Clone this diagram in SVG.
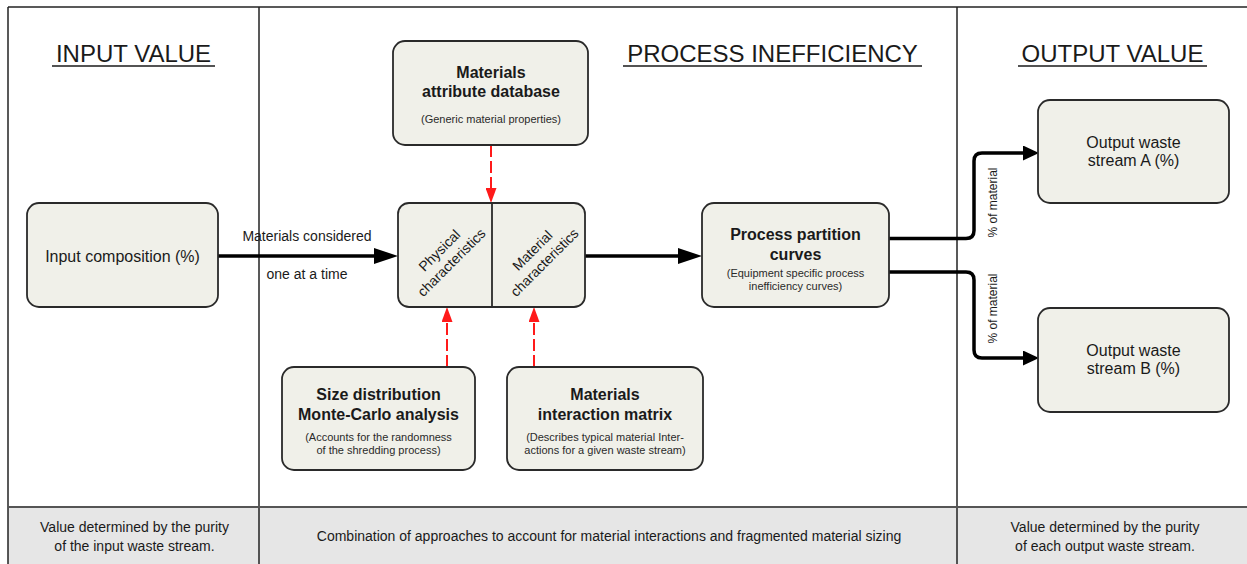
<svg xmlns="http://www.w3.org/2000/svg" width="1247" height="564" viewBox="0 0 1247 564">
<style>
text{font-family:"Liberation Sans",Arial,sans-serif;fill:#1a1a1a}
.h{font-size:24px}
.b{font-size:16px;font-weight:bold;text-anchor:middle}
.r{font-size:16px;text-anchor:middle}
.s{font-size:11px;text-anchor:middle;fill:#2a2a2a}
.m{font-size:14px;text-anchor:middle}
.p{font-size:12px;text-anchor:middle}
.box{fill:#f0f0e9;stroke:#2a2a2a;stroke-width:1.8}
.frame{stroke:#222;stroke-width:1.5;fill:none}
.flow{stroke:#000;stroke-width:3.5;fill:none}
.dash{stroke:#ff1a1a;stroke-width:2;stroke-dasharray:12 4;fill:none}
</style>
<defs>
<marker id="ahBig" markerUnits="userSpaceOnUse" markerWidth="24" markerHeight="16" refX="12" refY="8" orient="auto"><path d="M0,0 L24,8 L0,16 z" fill="#000"/></marker>
<marker id="ahSm" markerUnits="userSpaceOnUse" markerWidth="16" markerHeight="15" refX="7" refY="7.5" orient="auto"><path d="M0,0 L16,7.5 L0,15 z" fill="#000"/></marker>
<marker id="ahRed" markerUnits="userSpaceOnUse" markerWidth="15" markerHeight="11" refX="7" refY="5.5" orient="auto"><path d="M0,0 L15,5.5 L0,11 z" fill="#ff1a1a"/></marker>
</defs>
<rect width="1247" height="564" fill="#fff"/>
<g id="frame">
<rect x="8" y="507" width="1240" height="58" fill="#e6e6e6"/>
<line class="frame" x1="8" y1="7" x2="1247" y2="7"/>
<line class="frame" x1="8" y1="7" x2="8" y2="564"/>
<line class="frame" x1="259" y1="7" x2="259" y2="564"/>
<line class="frame" x1="957" y1="7" x2="957" y2="564"/>
<line x1="8" y1="507" x2="1247" y2="507" stroke="#555" stroke-width="2"/>
</g>
<g id="headings">
<text class="h" x="133.5" y="62" text-anchor="middle">INPUT VALUE</text>
<line x1="52" y1="66" x2="215" y2="66" stroke="#1a1a1a" stroke-width="1.5"/>
<text class="h" x="772.5" y="62" text-anchor="middle">PROCESS INEFFICIENCY</text>
<line x1="623" y1="66" x2="922" y2="66" stroke="#1a1a1a" stroke-width="1.5"/>
<text class="h" x="1112.5" y="62" text-anchor="middle">OUTPUT VALUE</text>
<line x1="1018" y1="66" x2="1207" y2="66" stroke="#1a1a1a" stroke-width="1.5"/>
</g>
<g id="connectors">
<path class="flow" d="M218,256 H386" marker-end="url(#ahBig)"/>
<path class="flow" d="M585,256 H690" marker-end="url(#ahBig)"/>
<path class="flow" d="M889,238.5 H966 Q974,238.5 974,230.5 V161 Q974,153 982,153 H1030" marker-end="url(#ahSm)"/>
<path class="flow" d="M889,272 H966 Q974,272 974,280 V350 Q974,358 982,358 H1030" marker-end="url(#ahSm)"/>
<path class="dash" d="M491,145 V195" marker-end="url(#ahRed)"/>
<path class="dash" d="M447,367 V315" marker-end="url(#ahRed)"/>
<path class="dash" d="M534,367 V315" marker-end="url(#ahRed)"/>
<text class="m" x="307" y="241">Materials considered</text>
<text class="m" x="307" y="279">one at a time</text>
<text class="p" transform="translate(997,202.5) rotate(-90)">% of material</text>
<text class="p" transform="translate(997,308.5) rotate(-90)">% of material</text>
</g>
<g id="input-composition">
<rect class="box" x="27" y="203" width="191" height="104" rx="12"/>
<text class="r" x="122.5" y="262">Input composition (%)</text>
</g>
<g id="materials-db">
<rect class="box" x="393" y="41" width="195" height="104" rx="12"/>
<text class="b" x="491" y="78">Materials</text>
<text class="b" x="491" y="97">attribute database</text>
<text class="s" x="491" y="123">(Generic material properties)</text>
</g>
<g id="characteristics">
<rect class="box" x="398" y="203" width="187" height="104" rx="11"/>
<line x1="492" y1="203" x2="492" y2="307" stroke="#2a2a2a" stroke-width="1.8"/>
<g transform="translate(445,256) rotate(-45)">
<text class="m" x="0" y="-3">Physical</text>
<text class="m" x="0" y="14">characteristics</text>
</g>
<g transform="translate(538,256) rotate(-45)">
<text class="m" x="0" y="-3">Material</text>
<text class="m" x="0" y="14">characteristics</text>
</g>
</g>
<g id="process-partition">
<rect class="box" x="702" y="203" width="187" height="104" rx="12"/>
<text class="b" x="795.5" y="240">Process partition</text>
<text class="b" x="795.5" y="260">curves</text>
<text class="s" x="795.5" y="277">(Equipment specific process</text>
<text class="s" x="795.5" y="290">inefficiency curves)</text>
</g>
<g id="size-distribution">
<rect class="box" x="282" y="367" width="193" height="103" rx="12"/>
<text class="b" x="378.5" y="400">Size distribution</text>
<text class="b" x="378.5" y="420">Monte-Carlo analysis</text>
<text class="s" x="378.5" y="441">(Accounts for the randomness</text>
<text class="s" x="378.5" y="454">of the shredding process)</text>
</g>
<g id="interaction-matrix">
<rect class="box" x="507" y="367" width="196" height="103" rx="12"/>
<text class="b" x="605" y="400">Materials</text>
<text class="b" x="605" y="420">interaction matrix</text>
<text class="s" x="605" y="441">(Describes typical material Inter-</text>
<text class="s" x="605" y="454">actions for a given waste stream)</text>
</g>
<g id="output-a">
<rect class="box" x="1038" y="100" width="191" height="103" rx="12"/>
<text class="r" x="1133.5" y="148">Output waste</text>
<text class="r" x="1133.5" y="166">stream A (%)</text>
</g>
<g id="output-b">
<rect class="box" x="1038" y="308" width="191" height="104" rx="12"/>
<text class="r" x="1133.5" y="356">Output waste</text>
<text class="r" x="1133.5" y="374">stream B (%)</text>
</g>
<g id="footer">
<text class="m" x="134.5" y="532">Value determined by the purity</text>
<text class="m" x="134.5" y="551">of the input waste stream.</text>
<text class="m" x="609" y="541">Combination of approaches to account for material interactions and fragmented material sizing</text>
<text class="m" x="1105" y="532">Value determined by the purity</text>
<text class="m" x="1105" y="551">of each output waste stream.</text>
</g>
</svg>
